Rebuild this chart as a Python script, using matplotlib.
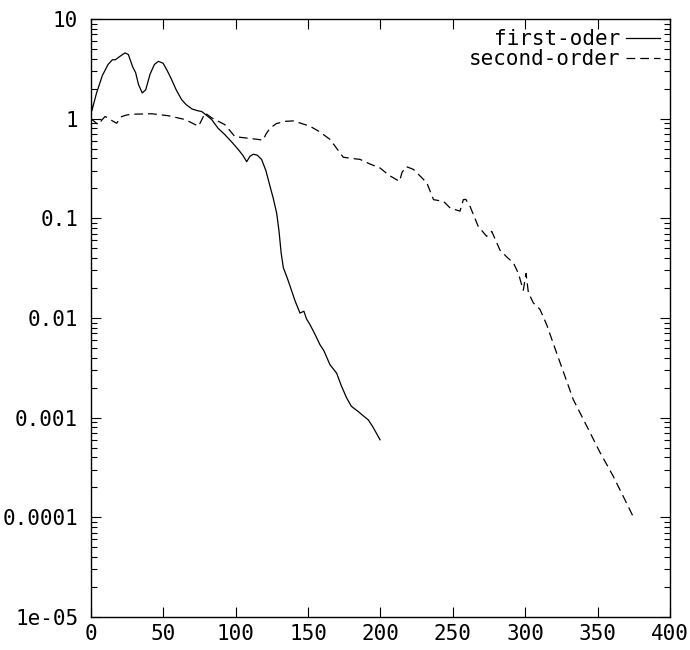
import matplotlib
matplotlib.use("Agg")
import matplotlib.pyplot as plt
from matplotlib.ticker import FixedLocator, FixedFormatter, LogLocator, NullFormatter

# first-order curve
x_first = [0, 0.8, 4, 8, 12, 15, 17, 20, 23.7, 26, 29, 31, 33, 35.6, 38, 41, 44, 46.7,
           50, 53, 55.9, 59, 62.8, 66, 70, 74, 76.6, 80, 83.5, 88, 92.7, 98, 101.9,
           105, 107.7, 110, 112.3, 115, 118, 121, 123.8, 126, 128.4, 130, 131.5, 133,
           135.8, 137.6, 141, 144.5, 147.2, 149, 151.4, 155, 158.3, 161, 165.2, 169.8,
           173, 176.7, 180, 184.8, 188, 191.7, 195, 199.8]
y_first = [2.05, 1.2, 1.8, 2.7, 3.5, 3.9, 3.9, 4.2, 4.57, 4.4, 3.3, 2.9, 2.2, 1.81, 1.95,
           2.8, 3.5, 3.76, 3.6, 3.0, 2.46, 1.95, 1.55, 1.38, 1.25, 1.2, 1.18, 1.08, 0.98,
           0.8, 0.69, 0.57, 0.49, 0.43, 0.37, 0.42, 0.44, 0.43, 0.39, 0.3, 0.21, 0.16,
           0.113, 0.075, 0.045, 0.032, 0.025, 0.021, 0.015, 0.0112, 0.0117, 0.0098,
           0.0086, 0.0068, 0.0054, 0.0047, 0.0034, 0.0028, 0.0021, 0.00158, 0.0013,
           0.00115, 0.00105, 0.00095, 0.0008, 0.0006]

# second-order curve
x_second = [0, 2, 5.3, 8, 9.9, 12, 15, 17.9, 21.4, 25, 30.7, 42.2, 53.7, 65.2, 74.4, 75.5,
            79, 83.5, 92.7, 99.6, 111.1, 119.1, 121, 123.8, 128, 134.2, 140, 151.4, 158,
            165.2, 170, 174.4, 180, 186, 193, 199.8, 206, 213.2, 215, 218, 222.8, 227,
            232.1, 236.7, 243.6, 248.2, 255, 257.3, 259, 261.9, 267.6, 273.4, 276.9,
            282.6, 288, 291.8, 295.3, 298.7, 300.6, 302.2, 305.6, 310.2, 314.8, 320.5,
            324, 333.2, 342.4, 351.6, 360.7, 369.9, 375]
y_second = [1.0, 0.95, 0.87, 0.98, 1.05, 1.02, 0.95, 0.9, 1.05, 1.09, 1.11, 1.12, 1.07,
            0.98, 0.84, 0.9, 1.14, 1.02, 0.87, 0.66, 0.63, 0.61, 0.7, 0.8, 0.89, 0.94,
            0.95, 0.84, 0.74, 0.62, 0.5, 0.41, 0.40, 0.39, 0.35, 0.32, 0.27, 0.235, 0.29,
            0.33, 0.31, 0.27, 0.227, 0.154, 0.148, 0.127, 0.118, 0.154, 0.155, 0.132,
            0.083, 0.066, 0.074, 0.048, 0.04, 0.036, 0.028, 0.019, 0.028, 0.018, 0.0142,
            0.0122, 0.0086, 0.0050, 0.0036, 0.00152, 0.00083, 0.00045, 0.00026, 0.00014,
            0.0000985]

y_ticks = [1e-5, 1e-4, 1e-3, 1e-2, 1e-1, 1, 10]
y_labels = ["1e-05", "0.0001", "0.001", "0.01", "0.1", "1", "10"]
x_ticks = [0, 50, 100, 150, 200, 250, 300, 350, 400]

plt.rcParams['font.family'] = ['DejaVu Sans Mono']
plt.rcParams['font.size'] = 15

fig = plt.figure(figsize=(6.9, 6.5), dpi=100)
ax = fig.add_axes([90.7 / 690, 1 - 617 / 650, (670 - 90.7) / 690, (617 - 19) / 650])

ax.plot(x_first, y_first, color='black', lw=0.9, label='first-oder')
ax.plot(x_second, y_second, color='black', lw=0.9, dashes=(7, 4), label='second-order')

ax.set_yscale('log')
ax.set_xlim(0, 400)
ax.set_ylim(1e-5, 10)
ax.yaxis.set_major_locator(FixedLocator(y_ticks))
ax.yaxis.set_major_formatter(FixedFormatter(y_labels))
ax.yaxis.set_minor_locator(LogLocator(base=10, subs=range(2, 10)))
ax.yaxis.set_minor_formatter(NullFormatter())
ax.set_xticks(x_ticks)
ax.set_xticklabels([str(v) for v in x_ticks])

ax.tick_params(which='both', direction='in', top=True, right=True, width=0.8)
ax.tick_params(which='major', length=7, pad=9)
ax.tick_params(which='minor', length=4)
ax.tick_params(axis='x', pad=5)
for s in ax.spines.values():
    s.set_linewidth(1.0)

leg = ax.legend(loc='upper right', frameon=False, markerfirst=False, handlelength=1.6,
                handletextpad=0.3, labelspacing=0.0, borderaxespad=0.1, fontsize=15)

fig.savefig('out.png', dpi=100)
